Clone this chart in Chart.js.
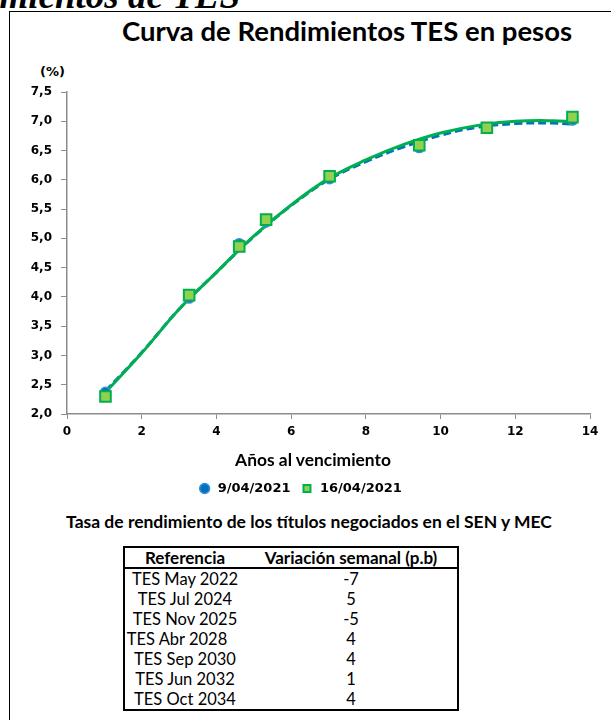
<!DOCTYPE html>
<html lang="es">
<head>
<meta charset="utf-8">
<title>Curva de Rendimientos TES en pesos</title>
<script src="https://cdn.jsdelivr.net/npm/chart.js@4.4.1/dist/chart.umd.min.js"></script>
<style>
  html, body { margin: 0; padding: 0; background: #fff; }
  body { width: 611px; height: 720px; position: relative; overflow: hidden; font-family: Lato, 'Open Sans', sans-serif; color: #000; }
  .page-head { position: absolute; left: -160px; top: -26px; width: 400px; line-height: 42px; text-align: right; font: italic bold 37px 'Liberation Serif', serif; white-space: nowrap; }
  .frame { position: absolute; left: 9px; top: 11px; width: 640px; height: 760px; border-left: 1.5px solid #000; border-top: 1.5px solid #000; background: transparent; }
  .title { position: absolute; left: 97px; top: 14px; width: 500px; text-align: center; font-weight: 700; font-size: 27.5px; white-space: nowrap; }
  .unit { position: absolute; left: 40px; top: 64px; font: bold 13px 'DejaVu Sans', sans-serif; }
  .chart-box { position: absolute; left: 10px; top: 60px; width: 601px; height: 450px; }
  .axis-title { position: absolute; left: 213px; top: 449px; width: 200px; text-align: center; font-weight: 700; font-size: 17.4px; white-space: nowrap; }
  .table-title { position: absolute; left: 9px; top: 511px; width: 600px; text-align: center; font-weight: 700; font-size: 17.5px; white-space: nowrap; }
  table { position: absolute; left: 123px; top: 546px; width: 336px; border-collapse: collapse; border: 2px solid #000; font-size: 16.5px; }
  th { font-weight: 700; font-size: 17px; height: 19px; line-height: 19px; padding: 0; border-bottom: 2px solid #000; }
  td { height: 20px; padding: 0; line-height: 20px; text-align: center; }
  td.ref { width: 120px; }
</style>
</head>
<body>
<div class="page-head">Rendimientos de TES</div>
<div class="frame"></div>
<div class="title">Curva de Rendimientos TES en pesos</div>
<div class="unit">(%)</div>
<div class="chart-box"><canvas id="curve"></canvas></div>
<div class="axis-title">Años al vencimiento</div>
<div class="table-title">Tasa de rendimiento de los títulos negociados en el SEN y MEC</div>
<table id="variation">
  <thead><tr><th>Referencia</th><th>Variación semanal (p.b)</th></tr></thead>
  <tbody></tbody>
</table>
<script>
// años al vencimiento de cada título
const maturities = [1.03, 3.27, 4.61, 5.33, 7.03, 9.43, 11.24, 13.53];
const yields0904 = [2.37, 3.98, 4.91, 5.28, 6.02, 6.55, 6.88, 7.02];
const yields1604 = [2.30, 4.03, 4.86, 5.32, 6.06, 6.59, 6.89, 7.07];

// curvas ajustadas
const curveYears = [1.03, 2, 3, 4, 5, 6, 7, 8, 9, 10, 11, 12, 13, 13.53];
const curve0904 = [2.39, 3.05, 3.79, 4.42, 5.03, 5.56, 6.00, 6.31, 6.56, 6.76, 6.90, 6.96, 6.97, 6.95];
const curve1604 = [2.37, 3.04, 3.79, 4.42, 5.04, 5.57, 6.02, 6.34, 6.60, 6.80, 6.93, 7.00, 7.01, 6.99];

const seriesLabels = ['9/04/2021', '16/04/2021'];

const bondNames = ['TES May 2022', 'TES Jul 2024', 'TES Nov 2025', 'TES Abr 2028', 'TES Sep 2030', 'TES Jun 2032', 'TES Oct 2034'];
const weeklyChange = [-7, 5, -5, 4, 4, 1, 4];
// pequeños corrimientos de la columna de referencia como en el original
const refOffsets = [0, 0, 0, -8, 0, 0, 0];

const toXY = (xs, ys) => xs.map((x, i) => ({ x, y: ys[i] }));

const tbody = document.querySelector('#variation tbody');
bondNames.forEach((name, i) => {
  const tr = document.createElement('tr');
  tr.innerHTML = `<td class="ref"><span style="position:relative;left:${refOffsets[i]}px">${name}</span></td><td>${weeklyChange[i]}</td>`;
  tbody.appendChild(tr);
});

const tickFont = { family: "'DejaVu Sans', sans-serif", size: 12, weight: 'bold' };

new Chart(document.getElementById('curve'), {
  type: 'scatter',
  data: {
    datasets: [
      {
        label: seriesLabels[0],
        data: toXY(maturities, yields0904),
        pointStyle: 'circle',
        pointRadius: 5,
        backgroundColor: '#0070C0',
        borderColor: '#3A8FD6',
        borderWidth: 1.5,
        order: 2,
      },
      {
        label: seriesLabels[1],
        data: toXY(maturities, yields1604),
        pointStyle: 'rect',
        pointRadius: 7.5,
        backgroundColor: '#92D050',
        borderColor: '#00B050',
        borderWidth: 2,
        order: 1,
      },
      {
        label: 'curva0904',
        data: toXY(curveYears, curve0904),
        showLine: true,
        pointRadius: 0,
        borderColor: '#0070C0',
        borderWidth: 3,
        borderDash: [8, 4],
        tension: 0.4,
        order: 4,
      },
      {
        label: 'curva1604',
        data: toXY(curveYears, curve1604),
        showLine: true,
        pointRadius: 0,
        borderColor: '#00B050',
        borderWidth: 3,
        tension: 0.4,
        order: 3,
      },
    ],
  },
  options: {
    responsive: true,
    maintainAspectRatio: false,
    animation: false,
    layout: { padding: { top: 32, right: 21, left: 0, bottom: 5 } },
    plugins: {
      tooltip: { enabled: false },
      legend: {
        position: 'bottom',
        labels: {
          usePointStyle: true,
          boxHeight: 7,
          padding: 10,
          color: '#000',
          font: { family: "'DejaVu Sans', sans-serif", size: 13, weight: 'bold' },
          filter: (item) => item.datasetIndex < 2,
          sort: (a, b) => a.datasetIndex - b.datasetIndex,
        },
      },
    },
    scales: {
      x: {
        type: 'linear',
        min: 0,
        max: 14,
        ticks: { stepSize: 2, color: '#000', font: tickFont, padding: 6 },
        grid: { drawOnChartArea: false, drawTicks: true, tickLength: 5, color: '#8c8c8c' },
        border: { color: '#8c8c8c', width: 1.5 },
        afterFit: (scale) => { scale.height = 58; },
      },
      y: {
        min: 2,
        max: 7.5,
        ticks: {
          stepSize: 0.5,
          color: '#000',
          font: tickFont,
          padding: 9,
          callback: (v) => v.toFixed(1).replace('.', ','),
        },
        grid: { drawOnChartArea: false, drawTicks: true, tickLength: 6, color: '#8c8c8c' },
        border: { color: '#8c8c8c', width: 1.5 },
        afterFit: (scale) => { scale.width = 57; },
      },
    },
  },
});
</script>
</body>
</html>
